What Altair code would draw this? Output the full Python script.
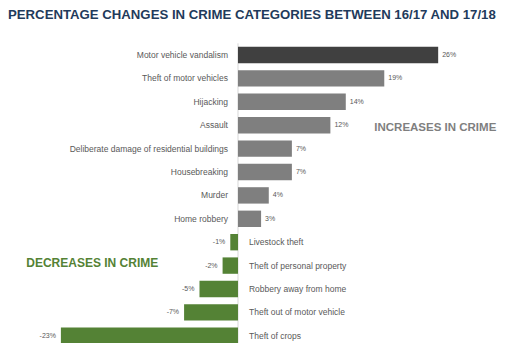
import altair as alt
import pandas as pd

title_text = "PERCENTAGE CHANGES IN CRIME CATEGORIES BETWEEN 16/17 AND 17/18"
categories = [
    "Motor vehicle vandalism",
    "Theft of motor vehicles",
    "Hijacking",
    "Assault",
    "Deliberate damage of residential buildings",
    "Housebreaking",
    "Murder",
    "Home robbery",
    "Livestock theft",
    "Theft of personal property",
    "Robbery away from home",
    "Theft out of motor vehicle",
    "Theft of crops",
]
values = [26, 19, 14, 12, 7, 7, 4, 3, -1, -2, -5, -7, -23]

df = pd.DataFrame({"category": categories, "value": values})
df["row"] = list(range(len(df)))
df["top"] = df["row"] - 0.35
df["bot"] = df["row"] + 0.35
df["label"] = df["value"].astype(str) + "%"
df["group"] = ["highlight" if i == 0 else ("increase" if v > 0 else "decrease")
               for i, v in enumerate(values)]

W, H = 491, 335
# zero at x=230, 7.7 px per percent
xs = alt.Scale(domain=[-29.87, 33.90], nice=False, zero=False)
# row 0 centre at y=47, 23.4 px per row
ys = alt.Scale(domain=[-2.009, 12.308], nice=False, zero=False, reverse=True)
cs = alt.Scale(domain=["highlight", "increase", "decrease"],
               range=["#404040", "#7f7f7f", "#548235"])

base = alt.Chart(df)

bars = base.mark_rect().encode(
    x=alt.X("value:Q", scale=xs, axis=None),
    x2=alt.datum(0),
    y=alt.Y("top:Q", scale=ys, axis=None),
    y2="bot:Q",
    color=alt.Color("group:N", scale=cs, legend=None),
)

zero = alt.Chart(pd.DataFrame({"z": [0]})).mark_rule(color="#d9d9d9", strokeWidth=1).encode(
    x=alt.X("z:Q", scale=xs, axis=None),
    y=alt.Y(datum=-0.5, scale=ys, axis=None),
    y2=alt.datum(12.308),
)

pos_cat = base.transform_filter("datum.value > 0").mark_text(
    align="right", baseline="middle", dx=-10, fontSize=8.5, color="#595959",
    font="Liberation Sans",
).encode(
    x=alt.X(datum=0, scale=xs, axis=None),
    y=alt.Y("row:Q", scale=ys, axis=None),
    text="category:N",
)

neg_cat = base.transform_filter("datum.value < 0").mark_text(
    align="left", baseline="middle", dx=11, fontSize=8.5, color="#595959",
    font="Liberation Sans",
).encode(
    x=alt.X(datum=0, scale=xs, axis=None),
    y=alt.Y("row:Q", scale=ys, axis=None),
    text="category:N",
)

pos_val = base.transform_filter("datum.value > 0").mark_text(
    align="left", baseline="middle", dx=4, fontSize=7, color="#595959",
    font="Liberation Sans",
).encode(
    x=alt.X("value:Q", scale=xs, axis=None),
    y=alt.Y("row:Q", scale=ys, axis=None),
    text="label:N",
)

neg_val = base.transform_filter("datum.value < 0").mark_text(
    align="right", baseline="middle", dx=-5, fontSize=7, color="#595959",
    font="Liberation Sans",
).encode(
    x=alt.X("value:Q", scale=xs, axis=None),
    y=alt.Y("row:Q", scale=ys, axis=None),
    text="label:N",
)

inc = alt.Chart(pd.DataFrame({"t": ["INCREASES IN CRIME"]})).mark_text(
    align="left", baseline="middle", fontSize=11.5, fontWeight="bold",
    color="#7f7f7f", font="Liberation Sans",
).encode(
    x=alt.X(datum=17.7, scale=xs, axis=None),
    y=alt.Y(datum=3.1, scale=ys, axis=None),
    text="t:N",
)

dec = alt.Chart(pd.DataFrame({"t": ["DECREASES IN CRIME"]})).mark_text(
    align="left", baseline="middle", fontSize=12, fontWeight="bold",
    color="#548235", font="Liberation Sans",
).encode(
    x=alt.X(datum=-27.5, scale=xs, axis=None),
    y=alt.Y(datum=8.9, scale=ys, axis=None),
    text="t:N",
)

title = alt.Chart(pd.DataFrame({"t": [title_text]})).mark_text(
    align="left", baseline="middle", fontSize=13.2, fontWeight="bold",
    color="#1f3b5c", font="Liberation Sans",
).encode(
    x=alt.value(0),
    y=alt.value(7),
    text="t:N",
)

chart = alt.layer(zero, bars, pos_cat, neg_cat, pos_val, neg_val, inc, dec, title).properties(
    width=W, height=H, padding=0,
    autosize=alt.AutoSizeParams(type="none"),
).configure_view(stroke=None)

chart.save("out.html", embed_options={"renderer": "svg", "actions": False})
